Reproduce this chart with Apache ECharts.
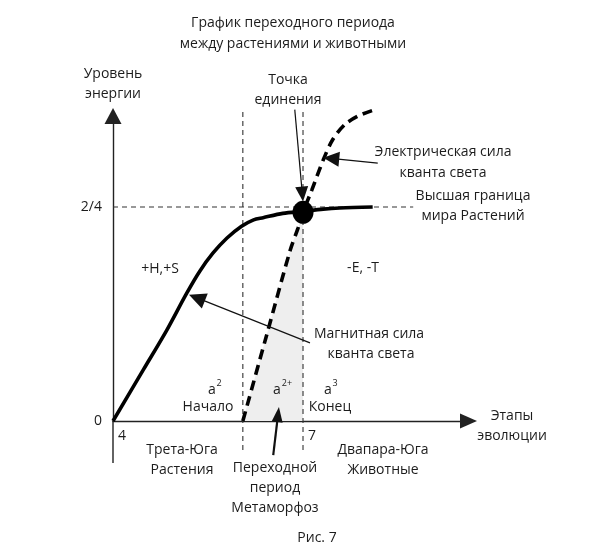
<!DOCTYPE html>
<html><head><meta charset="utf-8">
<script src="https://cdn.jsdelivr.net/npm/echarts@6/dist/echarts.min.js"></script>
<style>html,body{margin:0;padding:0;background:#fff}#c{width:591px;height:552px}</style>
</head><body><div id="c"></div>
<script>
// Magnetic force of the light quantum (solid curve)
const magX = [4, 4.48, 4.85, 5.16, 5.37, 5.58, 5.8, 6.03, 6.22, 6.37, 6.68, 7.0, 7.32, 7.58, 8.1];
const magY = [0, 0.48, 0.85, 1.19, 1.4, 1.57, 1.71, 1.82, 1.88, 1.9, 1.94, 1.96, 1.98, 1.99, 2.0];
// Electric force of the light quantum (dashed curve)
const elecX = [6.05, 6.42, 6.8, 6.92, 7.0, 7.14, 7.32, 7.47, 7.66, 7.87, 8.09];
const elecY = [0, 0.79, 1.6, 1.8, 1.95, 2.16, 2.44, 2.63, 2.77, 2.85, 2.9];
// point of union
const unionPoint = [7.0, 1.95];
// stage boundaries and upper level
const startStage = 6.05, endStage = 7;
const upperLevel = 2;
const refLineXEnd = 8.74;
const refLineYLow = -0.27, refLineYHigh = 2.92;
const yAxisLow = -0.3925;
// tick labels
const xTickValues = [4, 7], xTickLabels = ['4', '7'];
const yTickValues = [0, 2], yTickLabels = ['0', '2/4'];
// annotation arrows: [tailX, tailY, tipX, tipY]
const arrowUnion = [6.87, 2.91, 7.0, 2.05];
const arrowElec = [8.18, 2.41, 7.32, 2.46];
const arrowMag = [7.11, 0.73, 5.2, 1.18];
const arrowTrans = [6.53, -0.32, 6.62, 0.13];

const xMin = 4, xMax = 9.613, yMin = 0, yMax = 2.85;

const FONT = '"Open Sans", sans-serif';
const TXT = '#1c1c1c';
const arrowStyles = [
  {head: 15, w: 13, lw: 1.2},
  {head: 16, w: 15, lw: 1.2},
  {head: 17, w: 16, lw: 1.2},
  {head: 15, w: 11, lw: 2.2}
];

const shadePts = [];
for (let i = 0; i < elecX.length; i++) if (elecX[i] <= endStage) shadePts.push([elecX[i], elecY[i]]);
shadePts.push([endStage, 0]);

const texts = [
 ['График переходного периода', 293, 23],
 ['между растениями и животными', 293, 44],
 ['Уровень', 113, 74], ['энергии', 113, 94],
 ['Точка', 288, 80], ['единения', 288, 100],
 ['Электрическая сила', 443, 152], ['кванта света', 443, 173],
 ['Высшая граница', 473, 196], ['мира Растений', 473, 216],
 ['+H,+S', 160, 269], ['-E, -T', 363, 268],
 ['Магнитная сила', 369, 334], ['кванта света', 371, 354],
 ['Начало', 208, 407], ['Конец', 330, 407],
 ['Этапы', 512, 416], ['эволюции', 512, 436],
 ['Трета-Юга', 182, 450], ['Растения', 182, 470],
 ['Переходной', 275, 468], ['период', 275, 488], ['Метаморфоз', 275, 508],
 ['Двапара-Юга', 383, 450], ['Животные', 383, 470],
 ['Рис. 7', 317, 538],
 ['a', 212, 390], ['a', 277, 390], ['a', 328, 390]
];
const sups = [['2', 219, 383], ['2+', 287, 383], ['3', 335, 383]];

const graphic = texts.map(t => ({type: 'text', z: 50, style: {text: t[0], x: t[1], y: t[2], textAlign: 'center', textVerticalAlign: 'middle', font: '14px ' + FONT, fill: TXT}}))
  .concat(sups.map(t => ({type: 'text', z: 50, style: {text: t[0], x: t[1], y: t[2], textAlign: 'center', textVerticalAlign: 'middle', font: '9px ' + FONT, fill: TXT}})));

const dashedRef = {type: [5, 4], width: 1.1, color: '#333'};

const chart = echarts.init(document.getElementById('c'), null, {renderer: 'canvas'});
chart.setOption({
  animation: false,
  backgroundColor: '#fff',
  grid: {left: 113, right: 122.5, top: 116, bottom: 131, containLabel: false},
  graphic: graphic,
  xAxis: {
    type: 'value', min: xMin, max: xMax,
    splitLine: {show: false}, axisTick: {show: false},
    axisLine: {show: true, onZero: false, lineStyle: {color: '#222', width: 1.4}, symbol: ['none', 'triangle'], symbolSize: [15, 17]},
    axisLabel: {customValues: xTickValues, formatter: v => xTickLabels[xTickValues.indexOf(v)], align: 'left', padding: [0, 0, 0, 5], margin: 8, fontSize: 14, fontFamily: FONT, color: TXT}
  },
  yAxis: {
    type: 'value', min: yMin, max: yMax,
    splitLine: {show: false}, axisTick: {show: false},
    axisLine: {show: true, onZero: false, lineStyle: {color: '#222', width: 1.4}, symbol: ['none', 'triangle'], symbolSize: [17, 16]},
    axisLabel: {customValues: yTickValues, formatter: v => yTickLabels[yTickValues.indexOf(v)], margin: 11, fontSize: 14, fontFamily: FONT, color: TXT}
  },
  series: [
    {type: 'custom', clip: false, z: 1, silent: true,
     data: [[0]],
     renderItem: (params, api) => ({
       type: 'polygon',
       shape: {points: shadePts.map(p => api.coord(p))},
       style: {fill: '#eeeeee'}
     })},
    {type: 'line', clip: false, z: 2, symbol: 'none', lineStyle: {color: '#222', width: 1.4},
     data: [[xMin, 0], [xMin, yAxisLow]]},
    {type: 'line', clip: false, z: 2, symbol: 'none', lineStyle: dashedRef,
     data: [[xMin, upperLevel], [refLineXEnd, upperLevel]]},
    {type: 'line', clip: false, z: 2, symbol: 'none', lineStyle: dashedRef,
     data: [[startStage, refLineYLow], [startStage, refLineYHigh]]},
    {type: 'line', clip: false, z: 2, symbol: 'none', lineStyle: dashedRef,
     data: [[endStage, refLineYLow], [endStage, refLineYHigh]]},
    {type: 'line', name: 'Магнитная сила', clip: false, z: 5, symbol: 'none', smooth: 0.3,
     lineStyle: {color: '#000', width: 3.6},
     data: magX.map((x, i) => [x, magY[i]])},
    {type: 'line', name: 'Электрическая сила', clip: false, z: 5, symbol: 'none', smooth: 0.3,
     lineStyle: {color: '#000', width: 3.6, type: [10, 6]},
     data: elecX.map((x, i) => [x, elecY[i]])},
    {type: 'scatter', clip: false, z: 6, symbol: 'circle', symbolSize: [21, 23],
     itemStyle: {color: '#000', opacity: 1}, data: [unionPoint]},
    {type: 'custom', clip: false, z: 7, silent: true,
     encode: {x: [0, 2], y: [1, 3]},
     data: [arrowUnion, arrowElec, arrowMag, arrowTrans],
     renderItem: (params, api) => {
       const p0 = api.coord([api.value(0), api.value(1)]);
       const p1 = api.coord([api.value(2), api.value(3)]);
       const st = arrowStyles[params.dataIndex];
       const dx = p1[0] - p0[0], dy = p1[1] - p0[1], L = Math.hypot(dx, dy);
       const ux = dx / L, uy = dy / L, nx = -uy, ny = ux;
       const bx = p1[0] - ux * st.head, by = p1[1] - uy * st.head;
       return {type: 'group', children: [
         {type: 'line', shape: {x1: p0[0], y1: p0[1], x2: bx + ux, y2: by + uy}, style: {stroke: '#111', lineWidth: st.lw}},
         {type: 'polygon', shape: {points: [[p1[0], p1[1]], [bx + nx * st.w / 2, by + ny * st.w / 2], [bx - nx * st.w / 2, by - ny * st.w / 2]]}, style: {fill: '#111'}}
       ]};
     }}
  ]
});
</script></body></html>
